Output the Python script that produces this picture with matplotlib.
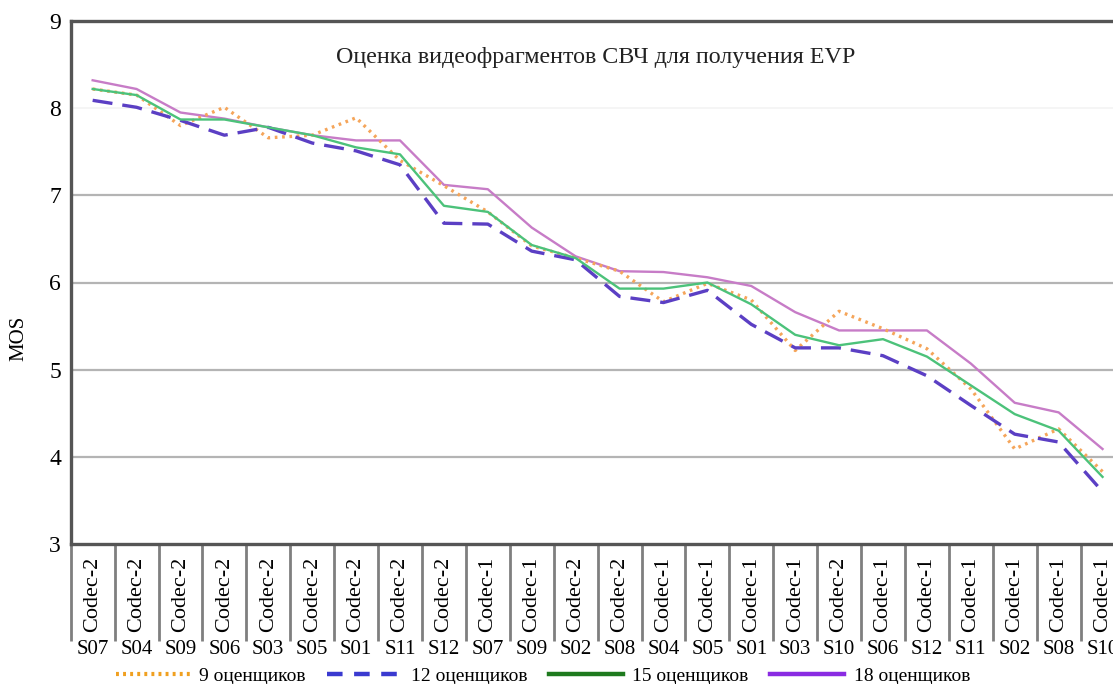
import matplotlib
matplotlib.use("Agg")
import matplotlib.pyplot as plt
from matplotlib.lines import Line2D

plt.rcParams['font.family'] = ['Liberation Serif', 'DejaVu Serif']

# categories (stimulus + codec)
scenes = ['S07', 'S04', 'S09', 'S06', 'S03', 'S05', 'S01', 'S11', 'S12', 'S07', 'S09', 'S02',
          'S08', 'S04', 'S05', 'S01', 'S03', 'S10', 'S06', 'S12', 'S11', 'S02', 'S08', 'S10']
codecs = ['Codec-2'] * 9 + ['Codec-1', 'Codec-1', 'Codec-2', 'Codec-2', 'Codec-1', 'Codec-1',
                            'Codec-1', 'Codec-1', 'Codec-2', 'Codec-1', 'Codec-1', 'Codec-1',
                            'Codec-1', 'Codec-1', 'Codec-1']

# MOS for different numbers of assessors
mos_9 = [8.22, 8.15, 7.80, 8.01, 7.66, 7.69, 7.89, 7.40, 7.11, 6.81, 6.42, 6.28,
         6.13, 5.78, 5.99, 5.80, 5.22, 5.67, 5.47, 5.24, 4.78, 4.09, 4.32, 3.83]
mos_12 = [8.09, 8.01, 7.86, 7.69, 7.78, 7.60, 7.51, 7.35, 6.68, 6.67, 6.36, 6.26,
          5.84, 5.77, 5.91, 5.52, 5.25, 5.25, 5.16, 4.93, 4.59, 4.26, 4.17, 3.60]
mos_15 = [8.22, 8.15, 7.87, 7.87, 7.78, 7.69, 7.55, 7.47, 6.88, 6.81, 6.43, 6.28,
          5.93, 5.93, 6.00, 5.75, 5.40, 5.28, 5.35, 5.15, 4.82, 4.49, 4.30, 3.77]
mos_18 = [8.32, 8.22, 7.95, 7.88, 7.78, 7.69, 7.63, 7.63, 7.12, 7.07, 6.63, 6.30,
          6.13, 6.12, 6.06, 5.96, 5.66, 5.45, 5.45, 5.45, 5.07, 4.62, 4.51, 4.09]

series_names = ['9 оценщиков', '12 оценщиков', '15 оценщиков', '18 оценщиков']

W, H = 1113, 684
fig = plt.figure(figsize=(W / 100, H / 100), dpi=100)
left, right, top, bottom = 70.7, 1124.5, 21, 544
ax = fig.add_axes([left / W, 1 - bottom / H, (right - left) / W, (bottom - top) / H])

x = list(range(len(scenes)))

for g in [4, 5, 6, 7]:
    ax.axhline(g, color='#b4b4b4', lw=1.6, zorder=1)
ax.axhline(8, color='#f3f3f3', lw=1.2, zorder=1)

ax.plot(x, mos_9, color='#f5a55a', lw=2.4, linestyle=(0, (0.8, 1.4)), zorder=3)
ax.plot(x, mos_12, color='#5b3fc4', lw=2.4, linestyle=(0, (6.0, 3.0)), zorder=3)
ax.plot(x, mos_15, color='#4cc27a', lw=1.7, zorder=4)
ax.plot(x, mos_18, color='#c77cc7', lw=1.7, zorder=2)

ax.set_xlim(-0.5, len(scenes) - 0.5)
ax.set_ylim(3, 9)
ax.set_yticks(range(3, 10))
ax.tick_params(axis='y', length=0, pad=7, labelsize=17)

# category separators under the axis
ax.set_xticks([])
ax.set_xticks([i - 0.5 for i in range(len(scenes) + 1)], minor=True)
ax.tick_params(axis='x', which='minor', direction='out', length=70, width=2, color='#7f7f7f')

for sp in ax.spines.values():
    sp.set_color('#555555')
    sp.set_linewidth(2.4)

for i in x:
    ax.annotate(codecs[i], (i, 0), xycoords=('data', 'axes fraction'),
                xytext=(0, -9), textcoords='offset points', rotation=90,
                ha='center', va='top', fontsize=16)
    ax.annotate(scenes[i], (i, 0), xycoords=('data', 'axes fraction'),
                xytext=(0, -69), textcoords='offset points',
                ha='center', va='top', fontsize=15)

fig.text(596 / W, 1 - 57 / H, 'Оценка видеофрагментов СВЧ для получения EVP',
         ha='center', va='center', fontsize=17.3, color='#222222')

fig.text(19 / W, 1 - 338 / H, 'MOS', rotation=90, ha='center', va='center', fontsize=15)

handles = [
    Line2D([], [], color='#f0a020', lw=3, linestyle=(0, (0.7, 1.0))),
    Line2D([], [], color='#3a3ad0', lw=3.2, linestyle=(0, (3.5, 2.6))),
    Line2D([], [], color='#1e7a1e', lw=3.2),
    Line2D([], [], color='#8a2be2', lw=3.2),
]
fig.legend(handles, series_names, loc='center', bbox_to_anchor=(543 / W, 1 - 676 / H),
           ncol=4, frameon=False, fontsize=14, handlelength=3.8, handletextpad=0.5,
           columnspacing=1.1, borderpad=0, borderaxespad=0)

fig.savefig('out.png', dpi=100)
